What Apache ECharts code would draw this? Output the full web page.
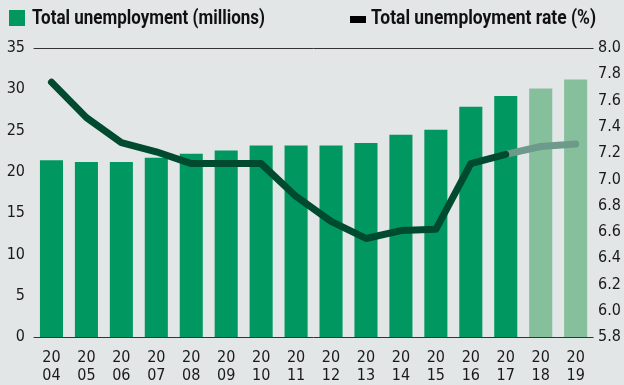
<!DOCTYPE html>
<html>
<head>
<meta charset="utf-8">
<script src="https://cdn.jsdelivr.net/npm/echarts@6/dist/echarts.min.js"></script>
<style>
  html, body { margin: 0; padding: 0; background: #e2e6e6; }
  #chart { width: 624px; height: 385px; }
</style>
</head>
<body>
<div id="chart"></div>
<script>
// data
const years = ['2004', '2005', '2006', '2007', '2008', '2009', '2010', '2011',
  '2012', '2013', '2014', '2015', '2016', '2017', '2018', '2019'];
const unemployment = [21.4, 21.2, 21.2, 21.7, 22.2, 22.6, 23.2, 23.2,
  23.2, 23.5, 24.5, 25.1, 27.9, 29.2, 30.1, 31.2];
const rate = [7.74, 7.47, 7.28, 7.21, 7.12, 7.12, 7.12, 6.87,
  6.68, 6.55, 6.61, 6.62, 7.12, 7.19, 7.25, 7.27];
const firstForecast = 14; // 2018 onward are projections
const legendNames = ['Total unemployment (millions)', 'Total unemployment rate (%)'];

const FONT = '"DejaVu Sans Condensed", "Liberation Sans Narrow", sans-serif';
const LEGEND_FONT = 'bold 20px Roboto, "DejaVu Sans Condensed", sans-serif';
const GREEN = '#009760';
const GREEN_LIGHT = '#86bf9c';
const DARK = '#004a30';
const DARK_LIGHT = '#6e9a8b';

const barData = unemployment.map((v, i) => (i >= firstForecast
  ? { value: v, itemStyle: { color: GREEN_LIGHT } }
  : v));
const rateActual = rate.map((v, i) => (i < firstForecast ? v : null));
const rateForecast = rate.map((v, i) => (i >= firstForecast - 1 ? v : null));

// the original uses a condensed face, squeeze the legend text to its width
const measure = document.createElement('canvas').getContext('2d');
measure.font = LEGEND_FONT;
function squeeze(text, target) {
  return Math.min(1, target / measure.measureText(text).width);
}

const chart = echarts.init(document.getElementById('chart'));
chart.setOption({
  backgroundColor: '#e2e6e6',
  animation: false,
  textStyle: { fontFamily: FONT },
  graphic: [
    { type: 'rect', shape: { x: 9, y: 10, width: 16, height: 16 }, style: { fill: GREEN } },
    {
      type: 'text', x: 32, y: 19, scaleX: squeeze(legendNames[0], 233),
      style: { text: legendNames[0], font: LEGEND_FONT, fill: '#111', verticalAlign: 'middle' },
    },
    { type: 'rect', shape: { x: 350, y: 16, width: 16, height: 7 }, style: { fill: '#000' } },
    {
      type: 'text', x: 371, y: 19, scaleX: squeeze(legendNames[1], 225),
      style: { text: legendNames[1], font: LEGEND_FONT, fill: '#111', verticalAlign: 'middle' },
    },
  ],
  grid: { left: 34, right: 28, top: 48, bottom: 48 },
  xAxis: [
    {
      type: 'category',
      data: years,
      axisLine: { show: true, lineStyle: { color: '#333', width: 1 } },
      axisTick: { show: false },
      axisLabel: {
        margin: 12,
        fontSize: 16,
        lineHeight: 18,
        color: '#1a1a1a',
        fontFamily: FONT,
        formatter: (y) => `${y.slice(0, 2)}\n${y.slice(2)}`,
      },
    },
    {
      type: 'category',
      position: 'top',
      data: years,
      axisLine: { show: true, lineStyle: { color: '#333', width: 1 } },
      axisTick: { show: false },
      axisLabel: { show: false },
    },
  ],
  yAxis: [
    {
      type: 'value',
      min: 0,
      max: 35,
      interval: 5,
      axisLine: { show: false },
      axisTick: { show: false },
      splitLine: { show: false },
      axisLabel: { margin: 9, fontSize: 16, color: '#1a1a1a', fontFamily: FONT },
    },
    {
      type: 'value',
      min: 5.8,
      max: 8.0,
      interval: 0.2,
      axisLine: { show: false },
      axisTick: { show: false },
      splitLine: { show: false },
      axisLabel: {
        margin: 5,
        fontSize: 16,
        color: '#1a1a1a',
        fontFamily: FONT,
        formatter: (v) => v.toFixed(1),
      },
    },
  ],
  series: [
    {
      name: legendNames[0],
      type: 'bar',
      data: barData,
      barCategoryGap: '34%',
      itemStyle: { color: GREEN },
    },
    {
      name: legendNames[1],
      type: 'line',
      yAxisIndex: 1,
      data: rateForecast,
      symbol: 'none',
      lineStyle: { color: DARK_LIGHT, width: 7, cap: 'round', join: 'round' },
      z: 3,
    },
    {
      name: legendNames[1],
      type: 'line',
      yAxisIndex: 1,
      data: rateActual,
      symbol: 'none',
      lineStyle: { color: DARK, width: 7, cap: 'round', join: 'round' },
      z: 4,
    },
  ],
});
</script>
</body>
</html>
